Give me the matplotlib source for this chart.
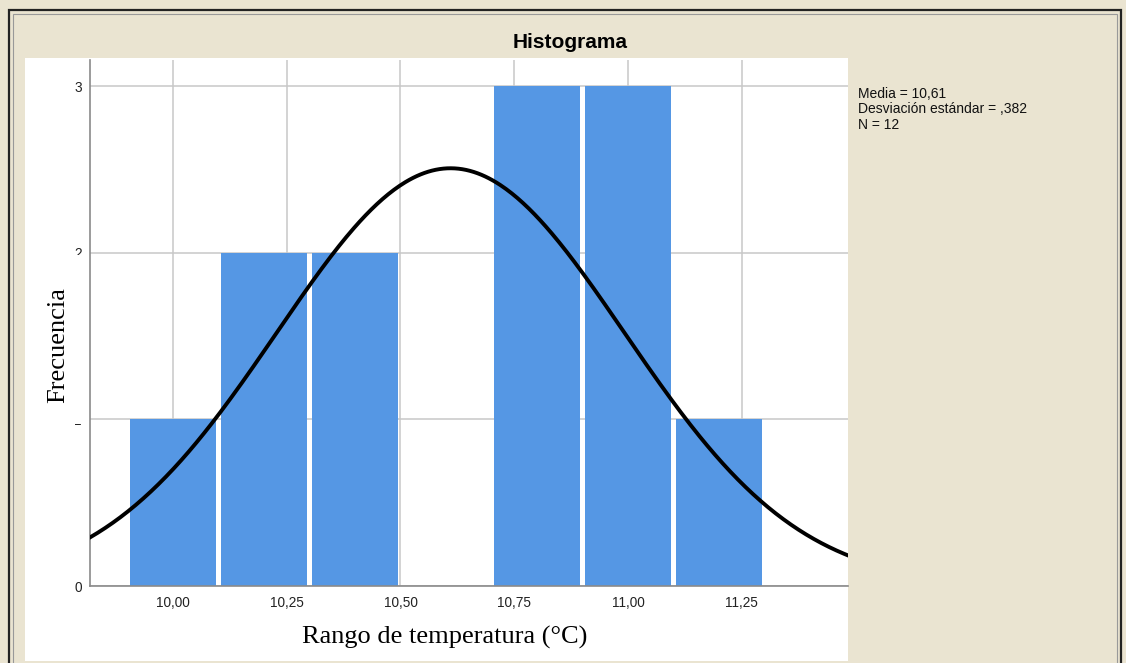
import numpy as np
import matplotlib.pyplot as plt
from matplotlib.patches import Rectangle

# Datos del histograma.
bin_edges = [9.9, 10.1, 10.3, 10.5, 10.7, 10.9, 11.1, 11.3]
counts = [1, 2, 2, 0, 3, 3, 1]
media = 10.61
desv = 0.382
n = 12
xticks = [10.00, 10.25, 10.50, 10.75, 11.00, 11.25]
xtick_labels = ["10,00", "10,25", "10,50", "10,75", "11,00", "11,25"]
yticks = [0, 1, 2, 3]

beige = "#EAE4D1"
azul = "#5597E4"

fig = plt.figure(figsize=(11.26, 6.63), dpi=100, facecolor=beige)
W, H = 1126, 663

# Marco exterior y panel blanco (detrás de los ejes).
fig.patches.append(Rectangle((9 / W, -0.01), 1112 / W, (H - 10) / H + 0.01,
                             transform=fig.transFigure, fill=False,
                             edgecolor="#222222", linewidth=1.6, zorder=-2))
fig.patches.append(Rectangle((13 / W, -0.01), 1104 / W, (H - 14) / H + 0.01,
                             transform=fig.transFigure, fill=False,
                             edgecolor="#999999", linewidth=0.8, zorder=-2))
fig.patches.append(Rectangle((25 / W, 0.003), (848 - 25) / W, (H - 58) / H - 0.003,
                             transform=fig.transFigure, facecolor="white",
                             edgecolor="none", zorder=-1))

ax = fig.add_axes([90 / W, (H - 586) / H, (848 - 90) / W, (586 - 60) / H])
ax.set_zorder(2)
ax.set_facecolor("white")

edges = np.array(bin_edges)
centros = (edges[:-1] + edges[1:]) / 2
anchos = np.diff(edges)
ax.bar(centros, counts, width=anchos * 0.94, color=azul, edgecolor="none",
       zorder=2)

# Curva normal escalada a frecuencias.
x0, x1 = 9.8176, 11.4835
xx = np.linspace(x0, x1, 400)
yy = n * anchos[0] / (desv * np.sqrt(2 * np.pi)) * np.exp(-0.5 * ((xx - media) / desv) ** 2)
ax.plot(xx, yy, color="black", linewidth=2.8, zorder=3)

ax.set_xlim(x0, x1)
ax.set_ylim(0, 3.156)
ax.set_xticks(xticks)
ax.set_xticklabels(xtick_labels)
ax.set_yticks(yticks)
ax.grid(True, color="#C8C8C8", linewidth=1.1, zorder=0)
ax.set_axisbelow(True)
for lado in ["top", "right"]:
    ax.spines[lado].set_visible(False)
for lado in ["left", "bottom"]:
    ax.spines[lado].set_color("#8A8A8A")
    ax.spines[lado].set_linewidth(1.2)
ax.tick_params(length=0, labelsize=9.8, labelcolor="#222222")
ax.tick_params(axis="x", pad=7.5)
ax.tick_params(axis="y", pad=6)
for t in ax.get_xticklabels() + ax.get_yticklabels():
    t.set_family("Liberation Sans")

# Recuadro blanco del rótulo vertical (tapa parte de las etiquetas 1 y 2).
fig.patches.append(Rectangle((30 / W, 1 - 424 / H), 56 / W, (424 - 255) / H,
                             transform=fig.transFigure, facecolor="white",
                             edgecolor="none", zorder=4))

fig.text(570 / W, 1 - 43 / H, "Histograma", ha="center", va="center",
         fontsize=15, fontweight="bold", family="Liberation Sans")
fig.text(445 / W, 1 - 637 / H, "Rango de temperatura (°C)", ha="center",
         va="center", fontsize=19, family="Liberation Serif", zorder=5)
fig.text(58 / W, 1 - 345 / H, "Frecuencia", ha="center", va="center",
         rotation=90, fontsize=19, family="Liberation Serif", zorder=5)
fig.text(858 / W, 1 - 87 / H,
         f"Media = {media:.2f}".replace(".", ",") + "\n"
         + f"Desviación estándar = ,{int(round(desv * 1000))}\n"
         + f"N = {n}",
         ha="left", va="top", fontsize=10, linespacing=1.12,
         family="Liberation Sans", color="#111111")

fig.savefig("out.png", dpi=100, facecolor=beige)
